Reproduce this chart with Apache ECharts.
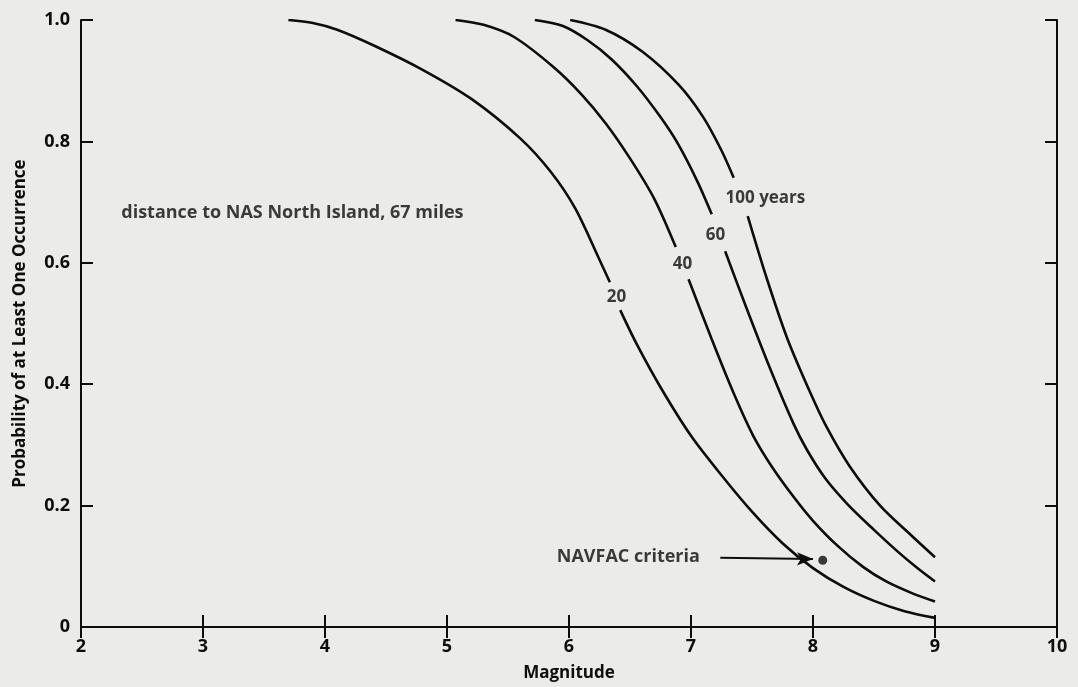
<!DOCTYPE html>
<html>
<head>
<meta charset="utf-8">
<script src="https://cdn.jsdelivr.net/npm/echarts@6/dist/echarts.min.js"></script>
<style>
  html, body { margin: 0; padding: 0; background: #ebebea; }
  #chart { width: 1078px; height: 687px; }
</style>
</head>
<body>
<div id="chart"></div>
<script>
// [magnitude, probability of at least one occurrence]
// '-' is the break in the curve where its label is printed
const years20 = [
  [3.70, 1.0], [3.90, 0.995], [4.10, 0.984], [4.40, 0.958], [4.80, 0.918], [5.20, 0.870],
  [5.60, 0.805], [5.85, 0.750], [6.05, 0.690], [6.25, 0.605], [6.335, 0.568], [6.37, '-'],
  [6.42, 0.522], [6.55, 0.468], [6.75, 0.395], [7.00, 0.315], [7.25, 0.250], [7.50, 0.190],
  [7.75, 0.138], [8.00, 0.097], [8.25, 0.066], [8.50, 0.043], [8.75, 0.026], [9.00, 0.015]
];
const years40 = [
  [5.07, 1.0], [5.30, 0.992], [5.55, 0.972], [5.87, 0.923], [6.10, 0.878], [6.30, 0.830],
  [6.50, 0.772], [6.70, 0.705], [6.875, 0.626], [6.93, '-'],
  [6.98, 0.573], [7.17, 0.474], [7.35, 0.385], [7.51, 0.315], [7.67, 0.262], [7.85, 0.212],
  [8.00, 0.175], [8.20, 0.134], [8.41, 0.099], [8.60, 0.075], [8.82, 0.055], [9.00, 0.042]
];
const years60 = [
  [5.72, 1.0], [5.95, 0.990], [6.15, 0.967], [6.35, 0.935], [6.56, 0.890], [6.75, 0.840],
  [6.89, 0.797], [7.05, 0.735], [7.17, 0.680], [7.22, '-'],
  [7.28, 0.619], [7.45, 0.528], [7.65, 0.425], [7.84, 0.335], [7.95, 0.292], [8.10, 0.245],
  [8.28, 0.203], [8.50, 0.160], [8.69, 0.125], [8.85, 0.098], [9.00, 0.075]
];
const years100 = [
  [6.01, 1.0], [6.30, 0.984], [6.60, 0.948], [6.90, 0.893], [7.10, 0.840], [7.25, 0.785],
  [7.35, 0.740], [7.40, '-'],
  [7.465, 0.677], [7.62, 0.575], [7.79, 0.475], [7.98, 0.385], [8.11, 0.330], [8.30, 0.265],
  [8.55, 0.200], [8.80, 0.152], [9.00, 0.115]
];

const curveLabels = [
  ['20', 6.39, 0.544],
  ['40', 6.93, 0.597],
  ['60', 7.20, 0.646],
  ['100 years', 7.61, 0.707]
];
const notes = [
  ['distance to NAS North Island, 67 miles', 2.33, 0.682],
  ['NAVFAC criteria', 5.90, 0.115]
];
const navfacPoint = [[8.08, 0.11]];
const navfacArrow = [[7.24, 0.114], [8.0, 0.112]];

const font = 'Open Sans';
const ink = '#0d0d0d';
const paper = '#ebebea';

const curve = data => ({
  type: 'line',
  data: data,
  smooth: 0.3,
  symbol: 'none',
  connectNulls: false,
  silent: true,
  lineStyle: {color: ink, width: 2.6}
});

const chart = echarts.init(document.getElementById('chart'));
chart.setOption({
  animation: false,
  backgroundColor: paper,
  textStyle: {fontFamily: font},
  grid: {left: 81, right: 21, top: 20, bottom: 60},
  xAxis: [
    {
      type: 'value', min: 2, max: 10, interval: 1,
      name: 'Magnitude', nameLocation: 'middle', nameGap: 38,
      nameTextStyle: {color: ink, fontFamily: font, fontWeight: 'bold', fontSize: 17},
      axisLine: {lineStyle: {color: ink, width: 2}},
      axisTick: {inside: true, length: 12, lineStyle: {color: ink, width: 2}},
      axisLabel: {color: ink, fontFamily: font, fontWeight: 'bold', fontSize: 18, margin: 11},
      splitLine: {show: false}
    },
    {
      type: 'value', min: 2, max: 10, interval: 1, position: 'top',
      axisLine: {lineStyle: {color: ink, width: 2}},
      axisTick: {inside: true, length: 11, lineStyle: {color: ink, width: 2}},
      axisLabel: {show: false},
      splitLine: {show: false}
    }
  ],
  yAxis: [
    {
      type: 'value', min: 0, max: 1, interval: 0.2,
      name: 'Probability of at Least One Occurrence', nameLocation: 'middle', nameGap: 52,
      nameTextStyle: {color: ink, fontFamily: font, fontWeight: 'bold', fontSize: 17},
      axisLine: {show: true, lineStyle: {color: ink, width: 2}},
      axisTick: {show: true, inside: true, length: 12, lineStyle: {color: ink, width: 2}},
      axisLabel: {
        color: ink, fontFamily: font, fontWeight: 'bold', fontSize: 18, margin: 11,
        formatter: v => v === 0 ? '0' : v.toFixed(1)
      },
      splitLine: {show: false}
    },
    {
      type: 'value', min: 0, max: 1, interval: 0.2, position: 'right',
      axisLine: {show: true, lineStyle: {color: ink, width: 2}},
      axisTick: {show: true, inside: true, length: 12, lineStyle: {color: ink, width: 2}},
      axisLabel: {show: false},
      splitLine: {show: false}
    }
  ],
  series: [
    curve(years20),
    curve(years40),
    curve(years60),
    curve(years100),
    {
      type: 'scatter',
      z: 5,
      symbolSize: 0,
      silent: true,
      itemStyle: {color: 'transparent'},
      data: curveLabels.map(([name, m, p]) => ({name: name, value: [m, p]})),
      label: {
        show: true, position: 'inside', formatter: '{b}',
        color: ink, fontFamily: font, fontWeight: 'bold', fontSize: 17,
        textBorderWidth: 0
      }
    },
    {
      type: 'scatter',
      z: 5,
      symbolSize: 0,
      silent: true,
      itemStyle: {color: 'transparent'},
      data: notes.map(([name, m, p]) => ({name: name, value: [m, p]})),
      label: {
        show: true, position: 'right', distance: 0, formatter: '{b}',
        color: ink, fontFamily: font, fontWeight: 'bold', fontSize: 18
      }
    },
    {
      type: 'scatter',
      z: 5,
      data: navfacPoint,
      symbolSize: 9,
      silent: true,
      itemStyle: {color: ink},
      markLine: {
        silent: true,
        symbol: ['none', 'arrow'],
        symbolSize: [10, 16],
        label: {show: false},
        lineStyle: {color: ink, width: 2, type: 'solid'},
        data: [[{coord: navfacArrow[0]}, {coord: navfacArrow[1]}]]
      }
    }
  ]
});
</script>
</body>
</html>
